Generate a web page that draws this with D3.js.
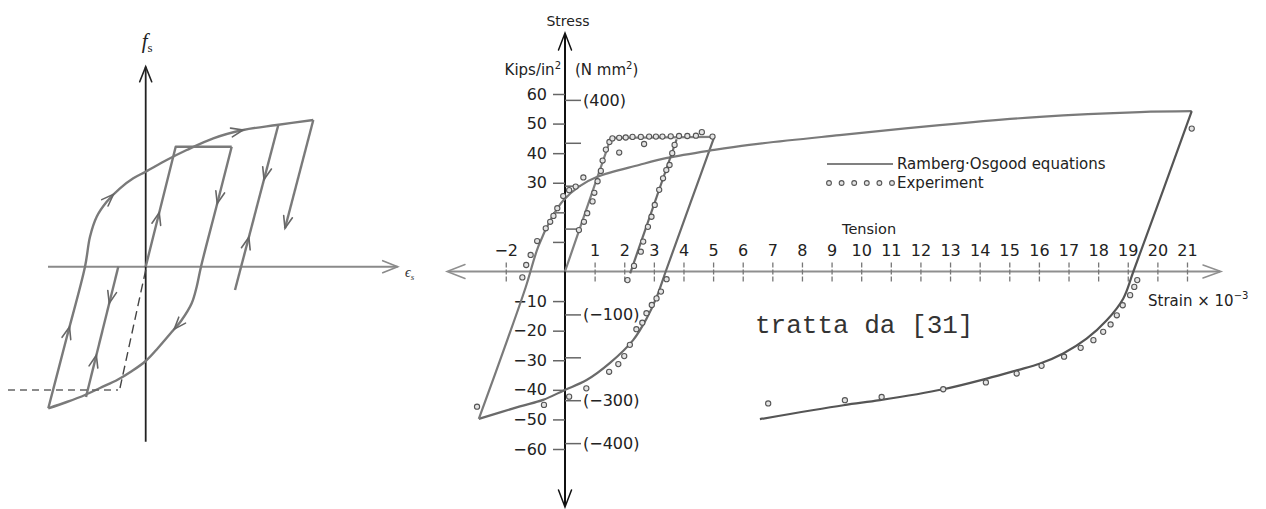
<!DOCTYPE html>
<html>
<head>
<meta charset="utf-8">
<script src="https://cdn.jsdelivr.net/npm/d3@7"></script>
<style>
  html, body { margin: 0; padding: 0; background: #fff; }
  svg { display: block; }
</style>
</head>
<body>
<svg id="chart" width="1266" height="509"></svg>
<script>
// ---------- Left: schematic stress-strain loops (arbitrary units) ----------
const schemVirgin   = [[0, 0], [1.5, 6], [3.0, 12.0], [8.6, 12.0]];
const schemReverse  = [[8.6, 12.0], [7.07, 6.0], [5.53, 0], [5.1, -2.0], [4.6, -3.66], [3.6, -5.33],
                       [2.43, -6.73], [1.23, -8.13], [0, -9.43], [-1.37, -10.43], [-2.77, -11.28],
                       [-4.57, -12.13], [-6.07, -12.83], [-7.9, -13.53], [-9.74, -14.16]];
const schemReload   = [[-9.74, -14.16], [-7.9, -7.08], [-6.07, 0], [-5.57, 3.0], [-4.9, 5.0], [-3.9, 6.5],
                       [-2.57, 7.84], [-1.24, 8.84], [0, 9.5], [2.1, 10.67], [4.1, 11.67],
                       [6.76, 12.84], [9.76, 13.67], [13.1, 14.17], [16.76, 14.67]];
const schemFinal    = [[16.76, 14.67], [13.93, 3.84]];
const schemInnerUp  = [[8.93, -2.33], [13.26, 14.17]];
const schemInnerDn  = [[-2.74, 0], [-5.97, -13.03]];
const schemDashed   = [[0, -0.33], [-2.57, -12.13]];
const schemLevel    = [[-13.77, -12.33], [-2.77, -12.33]];
// arrow marks: [branch, position along branch (0..1), direction]
const schemArrows = [
  ["reload", 0.19, 1], ["reload", 0.51, 1], ["reload", 0.84, 1],
  ["virgin", 0.31, 1], ["reverse", 0.17, 1], ["reverse", 0.56, 1],
  ["innerUp", 0.32, 1], ["innerUp", 0.67, -1],
  ["innerDn", 0.28, 1], ["innerDn", 0.68, -1], ["final", 1, 1]
];

// ---------- Right: steel stress (ksi) vs strain (x10^-3) ----------
const strainTicks  = [-2, 1, 2, 3, 4, 5, 6, 7, 8, 9, 10, 11, 12, 13, 14, 15, 16, 17, 18, 19, 20, 21];
const ksiTicks     = [-60, -50, -40, -30, -20, -10, 10, 20, 30, 40, 50, 60];
const ksiLabelled  = [-60, -50, -40, -30, -20, -10, 30, 40, 50, 60];
const mpaTicks     = [-400, -300, -200, -100, 100, 200, 300, 400];
const mpaLabelled  = [-400, -300, -100, 400];

// Ramberg-Osgood model branches [strain, stress]
const roVirgin   = [[0, 0], [1.55, 45.2], [5.04, 45.5]];
const roReverse1 = [[5.04, 45.5], [4.22, 22.75], [3.40, 0], [3.10, -8.5], [2.76, -15.8], [2.30, -23.2],
                    [1.52, -30.9], [0.73, -36.7], [-0.02, -40.1], [-0.74, -43.4], [-1.52, -45.6], [-2.91, -49.8]];
const roReload1  = [[-2.91, -49.8], [-1.95, -23.2], [-1.33, -5.4], [-0.9, 8.5], [-0.43, 18.5], [-0.06, 24.0],
                    [0.47, 28.7], [1.09, 32.0], [2.50, 36.0], [3.45, 38.4], [5.04, 41.1], [6.22, 42.8],
                    [9.27, 46.1], [12.65, 49.5], [16.03, 52.3], [19.41, 53.9], [21.16, 54.2]];
const roMinor    = [[2.2, -0.6], [3.77, 44.7]];
const roReverse2 = [[21.16, 54.2], [20.18, 27.1], [19.19, 0], [18.85, -9.1], [18.29, -16.5], [17.61, -22.7],
                    [16.82, -27.7], [16.04, -31.1], [15.25, -33.4], [14.24, -36.2], [12.77, -39.8],
                    [10.63, -43.5], [9.40, -45.2], [6.58, -49.9]];

// Experimental points [strain, stress]
const exptVirgin = [[0.47, 14.0], [0.64, 16.8], [0.75, 19.7], [0.93, 23.7], [0.99, 26.6], [1.10, 30.5],
                    [1.21, 34.0], [1.27, 37.5], [1.38, 41.2], [1.50, 43.8], [1.60, 45.0], [1.83, 45.2],
                    [2.05, 45.3], [2.28, 45.5], [2.56, 45.5], [2.84, 45.6], [3.07, 45.6], [3.29, 45.6],
                    [3.57, 45.7], [3.85, 45.8], [4.13, 45.8], [4.42, 45.9], [4.62, 47.1], [4.98, 45.6]];
const exptReload1 = [[-1.44, -2.0], [-1.31, 2.2], [-1.16, 5.6], [-0.94, 10.3], [-0.65, 14.6], [-0.50, 16.8],
                     [-0.39, 18.8], [-0.26, 21.4], [-0.06, 25.5], [0.14, 27.5], [0.36, 28.7], [0.62, 31.8],
                     [1.83, 40.2], [2.67, 43.1]];
const exptReverse1 = [[3.43, -2.6], [3.24, -6.8], [3.09, -9.1], [2.93, -11.3], [2.75, -14.1], [2.61, -17.3],
                      [2.41, -19.5], [2.19, -24.8], [2.0, -28.6], [1.80, -31.3], [1.49, -33.9], [0.72, -39.5],
                      [0.14, -42.3], [-0.71, -45.1], [-2.97, -45.7]];
const exptMinor  = [[2.11, -2.9], [2.33, 1.9], [2.56, 6.7], [2.64, 10.1], [2.80, 15.1], [2.92, 18.5],
                    [3.03, 22.5], [3.18, 27.6], [3.31, 31.5], [3.42, 34.3], [3.53, 36.0], [3.62, 40.0], [3.70, 42.8]];
const exptReverse2 = [[21.16, 48.3], [19.32, -2.9], [19.22, -5.2], [19.08, -8.0], [18.83, -11.4], [18.63, -14.8],
                      [18.42, -17.9], [18.17, -20.4], [17.84, -23.2], [17.41, -25.8], [16.85, -28.8],
                      [16.09, -31.9], [15.25, -34.5], [14.21, -37.5], [12.77, -39.8], [10.69, -42.4],
                      [9.45, -43.5], [6.86, -44.6]];

const legendItems = ["Ramberg\u00B7Osgood equations", "Experiment"];

// ---------------------------------------------------------------------------
const svg = d3.select("#chart");
const FONT = "DejaVu Sans, sans-serif";
const minus = d => (d < 0 ? "\u2212" + Math.abs(d) : String(d));

function chevron(g, x, y, ang, len, half, color, w) {
  const bx = x - Math.cos(ang) * len, by = y - Math.sin(ang) * len;
  const nx = -Math.sin(ang) * half, ny = Math.cos(ang) * half;
  g.append("path")
    .attr("d", `M${bx + nx},${by + ny}L${x},${y}L${bx - nx},${by - ny}`)
    .attr("fill", "none").attr("stroke", color).attr("stroke-width", w)
    .attr("stroke-linejoin", "miter").attr("stroke-linecap", "round");
}

// ===== Left schematic =====
const xL = d3.scaleLinear().domain([-10, 25]).range([45.7, 395.7]);
const yL = d3.scaleLinear().domain([-15, 20]).range([416.7, 66.7]);
const gL = svg.append("g");

// axes
gL.append("line").attr("x1", xL(-9.77)).attr("x2", xL(25.2)).attr("y1", yL(0)).attr("y2", yL(0))
  .attr("stroke", "#8a8a8a").attr("stroke-width", 2);
chevron(gL, xL(25.2), yL(0), 0, 15, 6, "#8a8a8a", 1.6);
gL.append("line").attr("x1", xL(0)).attr("x2", xL(0)).attr("y1", yL(20)).attr("y2", yL(-17.5))
  .attr("stroke", "#222").attr("stroke-width", 1.8);
chevron(gL, xL(0), yL(20), -Math.PI / 2, 15, 6, "#222", 1.6);

const lineL = d3.line().x(d => xL(d[0])).y(d => yL(d[1]));
const curveL = d3.line().x(d => xL(d[0])).y(d => yL(d[1])).curve(d3.curveCatmullRom.alpha(0.5));
const schemStyle = p => p.attr("fill", "none").attr("stroke", "#7a7a7a").attr("stroke-width", 2.4)
  .attr("stroke-linejoin", "round");

const branches = {
  virgin: gL.append("path").attr("d", lineL(schemVirgin)).call(schemStyle),
  reverse: gL.append("path").attr("d", curveL(schemReverse)).call(schemStyle),
  reload: gL.append("path").attr("d", curveL(schemReload)).call(schemStyle),
  final: gL.append("path").attr("d", lineL(schemFinal)).call(schemStyle),
  innerUp: gL.append("path").attr("d", lineL(schemInnerUp)).call(schemStyle),
  innerDn: gL.append("path").attr("d", lineL(schemInnerDn)).call(schemStyle)
};
gL.append("path").attr("d", lineL(schemDashed)).attr("fill", "none")
  .attr("stroke", "#444").attr("stroke-width", 1.4).attr("stroke-dasharray", "9,5");
gL.append("path").attr("d", lineL(schemLevel)).attr("fill", "none")
  .attr("stroke", "#666").attr("stroke-width", 1.3).attr("stroke-dasharray", "7,5");

schemArrows.forEach(([name, t, dir]) => {
  const node = branches[name].node();
  const L = node.getTotalLength();
  const s = t * L;
  const a = node.getPointAtLength(Math.max(0, s - 2));
  const b = node.getPointAtLength(Math.min(L, s + 2));
  let ang = Math.atan2(b.y - a.y, b.x - a.x);
  if (dir < 0) ang += Math.PI;
  const p = node.getPointAtLength(s);
  chevron(gL, p.x, p.y, ang, 12, 4.5, "#666", 1.6);
});

// axis labels
const fs = gL.append("text").attr("x", xL(-0.4)).attr("y", 48)
  .attr("font-family", "Liberation Serif, serif").attr("font-style", "italic")
  .attr("font-size", 21).attr("fill", "#222");
fs.append("tspan").text("f");
fs.append("tspan").attr("font-size", 13).attr("dy", 4).attr("font-style", "normal").text("s");
const es = gL.append("text").attr("x", 405).attr("y", 277)
  .attr("font-family", "Liberation Serif, serif").attr("font-style", "italic")
  .attr("font-size", 14).attr("fill", "#333");
es.append("tspan").text("\u03F5");
es.append("tspan").attr("font-size", 9).attr("dy", 3).text("s");

// ===== Right chart =====
const xR = d3.scaleLinear().domain([0, 21]).range([565, 1187]);
const yR = d3.scaleLinear().domain([-60, 60]).range([449, 94]);
const yMPa = d3.scaleLinear().domain([-60 * 6.895, 60 * 6.895]).range([449, 94]);
const gR = svg.append("g");

// strain axis
gR.append("line").attr("x1", 449).attr("x2", 1220).attr("y1", yR(0)).attr("y2", yR(0))
  .attr("stroke", "#8f8f8f").attr("stroke-width", 2);
chevron(gR, 447, yR(0), Math.PI, 18, 7, "#8f8f8f", 1.5);
chevron(gR, 1221, yR(0), 0, 18, 6.5, "#8f8f8f", 1.5);

const gx = gR.append("g").attr("transform", `translate(0,${yR(0)})`)
  .call(d3.axisTop(xR).tickValues(strainTicks).tickSize(0).tickPadding(16).tickFormat(minus));
gx.select(".domain").remove();
gx.attr("font-family", FONT).attr("font-size", 16);
gx.selectAll(".tick text").attr("fill", "#222");
gx.selectAll(".tick").append("line").attr("y1", -9).attr("y2", 10)
  .attr("stroke", "#777").attr("stroke-width", 1.3).attr("stroke-dasharray", "5,2");

// stress axis
gR.append("line").attr("x1", xR(0)).attr("x2", xR(0)).attr("y1", 35).attr("y2", 506)
  .attr("stroke", "#111").attr("stroke-width", 2);
chevron(gR, xR(0), 33, -Math.PI / 2, 17, 6.5, "#111", 1.5);
chevron(gR, xR(0), 507, Math.PI / 2, 17, 6.5, "#111", 1.5);

const gyL = gR.append("g").attr("transform", `translate(${xR(0)},0)`)
  .call(d3.axisLeft(yR).tickValues(ksiTicks).tickSize(12).tickPadding(6)
    .tickFormat(d => (ksiLabelled.includes(d) ? minus(d) : "")));
gyL.select(".domain").remove();
gyL.attr("font-family", FONT).attr("font-size", 16);
gyL.selectAll(".tick line").attr("stroke", "#666").attr("stroke-width", 1.5);
gyL.selectAll(".tick text").attr("fill", "#222");

const gyR = gR.append("g").attr("transform", `translate(${xR(0)},0)`)
  .call(d3.axisRight(yMPa).tickValues(mpaTicks).tickSize(16).tickPadding(2)
    .tickFormat(d => (mpaLabelled.includes(d) ? `(${minus(d)})` : "")));
gyR.select(".domain").remove();
gyR.attr("font-family", FONT).attr("font-size", 16);
gyR.selectAll(".tick line").attr("stroke", "#666").attr("stroke-width", 1.5);
gyR.selectAll(".tick text").attr("fill", "#222");

// model curves
const lineR = d3.line().x(d => xR(d[0])).y(d => yR(d[1]));
const curveR = d3.line().x(d => xR(d[0])).y(d => yR(d[1])).curve(d3.curveCatmullRom.alpha(0.5));
const modelStyle = (p, c) => p.attr("fill", "none").attr("stroke", c).attr("stroke-width", 2.2)
  .attr("stroke-linejoin", "round");
gR.append("path").attr("d", lineR(roVirgin)).call(modelStyle, "#808080");
gR.append("path").attr("d", curveR(roReverse1)).call(modelStyle, "#6a6a6a");
gR.append("path").attr("d", curveR(roReload1)).call(modelStyle, "#7a7a7a");
gR.append("path").attr("d", lineR(roMinor)).call(modelStyle, "#6a6a6a");
gR.append("path").attr("d", curveR(roReverse2)).call(modelStyle, "#555");

// experimental points
const expt = [].concat(exptVirgin, exptReload1, exptReverse1, exptMinor, exptReverse2);
gR.append("g").selectAll("circle").data(expt).join("circle")
  .attr("cx", d => xR(d[0])).attr("cy", d => yR(d[1])).attr("r", 2.6)
  .attr("fill", "#e4e4e4").attr("stroke", "#555").attr("stroke-width", 1.1);

// legend
const gLeg = gR.append("g");
gLeg.append("line").attr("x1", 827).attr("x2", 893).attr("y1", 164).attr("y2", 164)
  .attr("stroke", "#808080").attr("stroke-width", 2.2);
gLeg.selectAll("circle").data(d3.range(6)).join("circle")
  .attr("cx", i => 829 + i * 12.6).attr("cy", 183).attr("r", 2.4)
  .attr("fill", "#e4e4e4").attr("stroke", "#555").attr("stroke-width", 1.1);
gLeg.selectAll("text").data(legendItems).join("text")
  .attr("x", 897).attr("y", (d, i) => 169 + i * 19)
  .attr("font-family", FONT).attr("font-size", 15).attr("fill", "#222").text(d => d);

// titles
gR.append("text").attr("x", xR(0) + 3).attr("y", 26).attr("text-anchor", "middle")
  .attr("font-family", FONT).attr("font-size", 14).attr("fill", "#222").text("Stress");
const kips = gR.append("text").attr("x", 561).attr("y", 75).attr("text-anchor", "end")
  .attr("font-family", FONT).attr("font-size", 15).attr("fill", "#222");
kips.append("tspan").text("Kips/in");
kips.append("tspan").attr("font-size", 10).attr("dy", -6).text("2");
const nmm = gR.append("text").attr("x", 575).attr("y", 75)
  .attr("font-family", FONT).attr("font-size", 15).attr("fill", "#222");
nmm.append("tspan").text("(N mm");
nmm.append("tspan").attr("font-size", 10).attr("dy", -6).text("2");
nmm.append("tspan").attr("dy", 6).text(")");

gR.append("text").attr("x", 842).attr("y", 234)
  .attr("font-family", FONT).attr("font-size", 14.5).attr("fill", "#222").text("Tension");
const strainLbl = gR.append("text").attr("x", 1148).attr("y", 306)
  .attr("font-family", FONT).attr("font-size", 15).attr("fill", "#222");
strainLbl.append("tspan").text("Strain \u00D7 10");
strainLbl.append("tspan").attr("font-size", 10).attr("dy", -7).text("\u22123");

gR.append("text").attr("x", 755).attr("y", 333)
  .attr("font-family", "Liberation Mono, monospace").attr("font-size", 26).attr("fill", "#333")
  .text("tratta da [31]");
</script>
</body>
</html>
